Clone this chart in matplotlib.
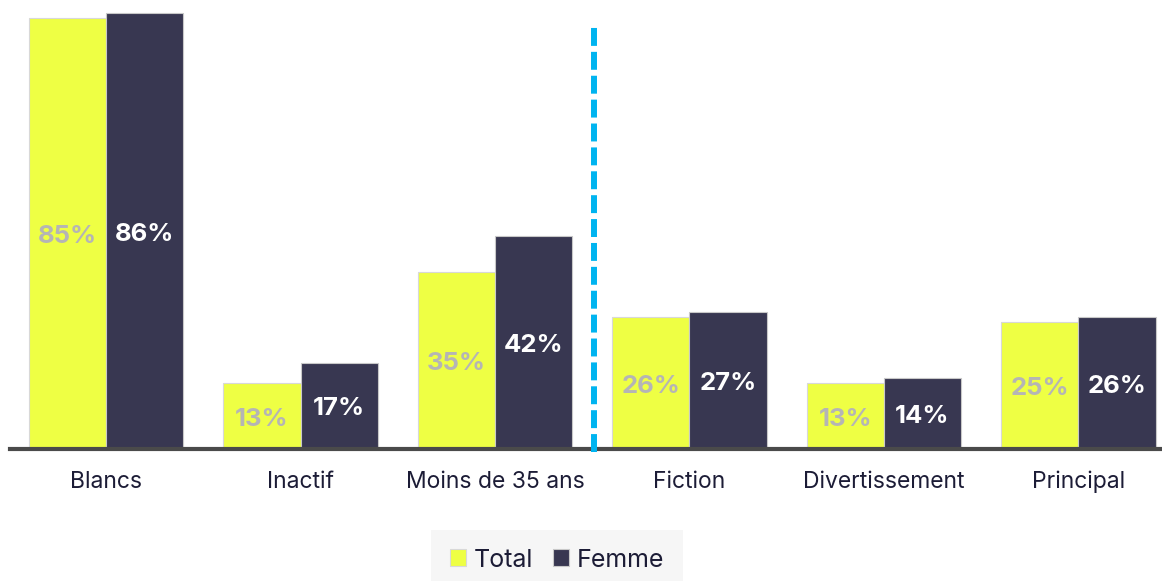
import numpy as np
import matplotlib.pyplot as plt
import matplotlib.transforms as mtransforms

categories = ["Blancs", "Inactif", "Moins de 35 ans", "Fiction", "Divertissement", "Principal"]
total = [85, 13, 35, 26, 13, 25]
femme = [86, 17, 42, 27, 14, 26]

YELLOW = "#eeff44"
NAVY = "#383751"
FONT = "Inter"

fig = plt.figure(figsize=(11.62, 5.81), dpi=100)
ax = fig.add_axes([0.0086, 0.2272, 0.9914, 0.7728])

x = np.arange(len(categories))
w = 0.397
b1 = ax.bar(x - w / 2, total, w, color=YELLOW, edgecolor="#d8d8d8", linewidth=0.8, label="Total")
b2 = ax.bar(x + w / 2, femme, w, color=NAVY, edgecolor="#c8c8c8", linewidth=0.8, label="Femme")

for bar, v in zip(b1, total):
    ax.text(bar.get_x() + bar.get_width() / 2, v / 2 - 0.6, f"{v}%", ha="center", va="center",
            fontsize=18.5, fontweight="bold", color="#b5b5b5", family=FONT)
for bar, v in zip(b2, femme):
    ax.text(bar.get_x() + bar.get_width() / 2, v / 2 - 0.6, f"{v}%", ha="center", va="center",
            fontsize=18.5, fontweight="bold", color="white", family=FONT)

# separator between profile and genre groups
ax.plot([2.51, 2.51], [-0.5, 83.8], color="#00b4f0", linewidth=4.3,
        linestyle=(0, (3.0, 1.0)), clip_on=False, zorder=3)

ax.set_xlim(-0.494, 5.43)
ax.set_ylim(0, 88.6)
ax.set_xticks([])
ax.set_yticks([])
trans = mtransforms.blended_transform_factory(ax.transData, fig.transFigure)
for xi, cat in zip(x, categories):
    ax.text(xi, 0.160, cat, transform=trans, ha="center", va="baseline",
            fontsize=16.5, color="#1c1c36", family=FONT)
for s in ["left", "right", "top"]:
    ax.spines[s].set_visible(False)
ax.spines["bottom"].set_color("#4a4a4a")
ax.spines["bottom"].set_linewidth(3)

leg = fig.legend(handles=[b1, b2], loc="center", bbox_to_anchor=(0.4795, 0.036), ncol=2,
                 frameon=True, handlelength=0.65, handleheight=0.65,
                 handletextpad=0.3, columnspacing=0.8, borderpad=0.75,
                 prop={"family": FONT, "size": 18})
leg.get_frame().set_facecolor("#f4f4f4")
leg.get_frame().set_edgecolor("none")
leg.get_frame().set_boxstyle("square", pad=0.0)
for t in leg.get_texts():
    t.set_color("#1c1c36")

fig.savefig("out.png", dpi=100)
